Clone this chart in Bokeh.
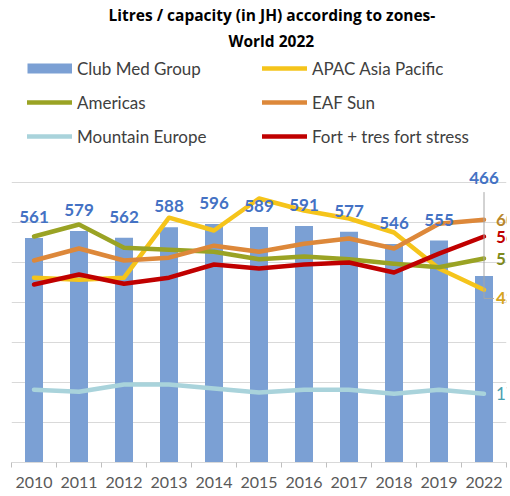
import numpy as np
from bokeh.plotting import figure
from bokeh.models import (ColumnDataSource, LabelSet, Legend, LegendItem, Title,
                          FixedTicker, Range1d)
from bokeh.core.properties import value
from bokeh.embed import file_html
from bokeh.resources import INLINE

# ---------------- data ----------------
years = ["2010", "2011", "2012", "2013", "2014", "2015", "2016", "2017", "2018", "2019", "2022"]
club_med = [561, 579, 562, 588, 596, 589, 591, 577, 546, 555, 466]
apac = [462, 457, 462, 612, 580, 660, 630, 610, 575, 485, 432]
americas = [565, 595, 537, 532, 527, 508, 515, 508, 497, 488, 510]
eaf_sun = [505, 535, 505, 512, 542, 527, 547, 560, 535, 597, 607]
mountain = [182, 177, 195, 195, 185, 175, 182, 182, 172, 182, 172]
fort = [445, 470, 447, 462, 495, 485, 495, 500, 475, 522, 565]
grid_values = [100, 200, 300, 400, 500, 600, 700]

FONT = "Lato"
TFONT = "Open Sans"
x = list(range(len(years)))

TOP = 52
p = figure(width=510, height=496, output_backend="svg", toolbar_location=None,
           x_range=Range1d(-0.5, len(years) - 0.5), y_range=Range1d(0, (496 - 34 - TOP) / 0.4),
           min_border_left=11, min_border_right=4, min_border_bottom=34, min_border_top=TOP)
p.title.text = "Litres / capacity (in JH) according to zones-"
p.title.text_font = TFONT
p.title.text_font_size = "15.5px"
p.title.text_font_style = "bold"
p.title.text_color = "#000000"
p.title.align = "left"
p.title.offset = 97
p.title.standoff = 2

p.outline_line_color = None
p.background_fill_color = "white"
p.yaxis.visible = False
p.xgrid.visible = False
p.ygrid.ticker = FixedTicker(ticks=grid_values)
p.ygrid.grid_line_color = "#D9D9D9"
p.ygrid.grid_line_width = 1

ax = p.xaxis[0]
ax.ticker = FixedTicker(ticks=x, minor_ticks=[i - 0.5 for i in range(len(years) + 1)])
ax.major_label_overrides = {i: y for i, y in enumerate(years)}
ax.major_tick_line_color = None
ax.major_tick_out = 5
ax.major_tick_in = 0
ax.minor_tick_line_color = "#BFBFBF"
ax.minor_tick_out = 5
ax.minor_tick_in = 0
ax.axis_line_color = "#D9D9D9"
ax.major_label_standoff = 9
ax.major_label_text_font = FONT
ax.major_label_text_font_size = "16px"
ax.major_label_text_color = "#595959"

src = ColumnDataSource(dict(x=x, club=club_med, apac=apac, am=americas, eaf=eaf_sun,
                            mtn=mountain, fort=fort))

bar_color = "#7BA0D4"
bars = p.vbar(x="x", top="club", width=0.4, source=src, fill_color=bar_color, line_color=None)

LW = 4.5
line_specs = [
    ("apac", "#F5C41B", "APAC Asia Pacific"),
    ("am", "#9AA324", "Americas"),
    ("eaf", "#DD883A", "EAF Sun"),
    ("mtn", "#A9D3DB", "Mountain Europe"),
    ("fort", "#C00000", "Fort + tres fort stress"),
]
rends = {}
for col, color, name in line_specs:
    rends[name] = p.line(x="x", y=col, source=src, line_color=color, line_width=LW,
                         line_cap="round", line_join="round")

# leader line for the moved labels at the last category
last = len(years) - 1
lead_src = ColumnDataSource(dict(x=[last, last, last + 0.22],
                                 y=[club_med[last] + 210, apac[last] - 22, apac[last] - 22]))
p.line(x="x", y="y", source=lead_src, line_color="#A6A6A6", line_width=1)

# bar value labels
lab_src = ColumnDataSource(dict(x=x[:-1], y=club_med[:-1], t=[str(v) for v in club_med[:-1]]))
p.add_layout(LabelSet(x="x", y="y", text="t", source=lab_src, y_offset=21,
                      text_align="center", text_baseline="middle",
                      text_font=value(FONT), text_font_size="17px", text_font_style="bold",
                      text_color="#4472C4"))
lab_last = ColumnDataSource(dict(x=[last], y=[club_med[last]], t=[str(club_med[last])]))
p.add_layout(LabelSet(x="x", y="y", text="t", source=lab_last, y_offset=98,
                      text_align="center", text_baseline="middle",
                      text_font=value(FONT), text_font_size="17px", text_font_style="bold",
                      text_color="#4472C4"))

# end labels of the lines
end_specs = [
    (eaf_sun, "#B8862B", 0, "bold"),
    (fort, "#C00000", 0, "bold"),
    (americas, "#7E8A1C", 0, "bold"),
    (apac, "#D6A41E", -8, "bold"),
    (mountain, "#4AA0B0", 0, "normal"),
]
for vals, color, yoff, style in end_specs:
    s = ColumnDataSource(dict(x=[last], y=[vals[last]], t=[str(vals[last])]))
    p.add_layout(LabelSet(x="x", y="y", text="t", source=s, x_offset=12, y_offset=yoff,
                          text_align="left", text_baseline="middle",
                          text_font=value(FONT), text_font_size="17px", text_font_style=style,
                          text_color=color))

# legend swatch for the bars (a rectangle-like thick stroke, nothing drawn in the plot)
bar_swatch = p.line(x=[0], y=[float("nan")], line_color=bar_color, line_width=10, line_cap="butt")

items = [
    LegendItem(label="Club Med Group", renderers=[bar_swatch]),
    LegendItem(label="APAC Asia Pacific", renderers=[rends["APAC Asia Pacific"]]),
    LegendItem(label="Americas", renderers=[rends["Americas"]]),
    LegendItem(label="EAF Sun", renderers=[rends["EAF Sun"]]),
    LegendItem(label="Mountain Europe", renderers=[rends["Mountain Europe"]]),
    LegendItem(label="Fort + tres fort stress", renderers=[rends["Fort + tres fort stress"]]),
]
legend = Legend(items=items, orientation="horizontal", ncols=2,
                location=(16, 315), margin=0, padding=0,
                glyph_width=45, glyph_height=22, label_height=22, label_width=173,
                spacing=12, label_standoff=5,
                label_text_font=FONT, label_text_font_size="17px", label_text_color="#404040",
                border_line_color=None, background_fill_alpha=0)
p.add_layout(legend, "center")
p.add_layout(Title(text="World 2022", text_font=TFONT, text_font_size="15.5px",
                   text_font_style="bold", text_color="#000000", align="left", offset=217,
                   standoff=2), "above")

open("out.html", "w").write(file_html(p, INLINE))
